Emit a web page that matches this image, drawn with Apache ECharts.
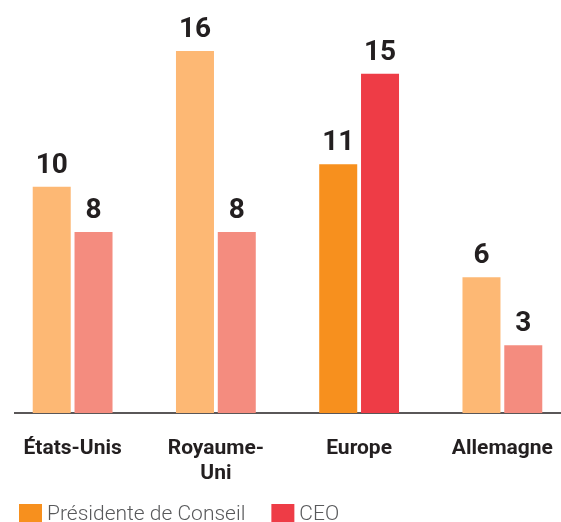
<!DOCTYPE html>
<html>
<head>
<meta charset="utf-8">
<script src="https://cdn.jsdelivr.net/npm/echarts@6/dist/echarts.min.js"></script>
<style>
  html, body { margin: 0; padding: 0; background: #fff; }
  #chart { width: 561px; height: 522px; }
</style>
</head>
<body>
<div id="chart"></div>
<script>
// données
const categories = ['États-Unis', 'Royaume-\nUni', 'Europe', 'Allemagne'];
const presidenteValues = [10, 16, 11, 6];
const ceoValues = [8, 8, 15, 3];
const seriesNames = ['Présidente de Conseil', 'CEO'];

// couleurs : Europe en couleur pleine, les autres en pâle
const presidenteColors = ['#FDB874', '#FDB874', '#F7901E', '#FDB874'];
const ceoColors = ['#F48C7F', '#F48C7F', '#EE3C46', '#F48C7F'];
const legendColors = ['#F7901E', '#EE3C46'];

const fontFamily = 'Roboto, "Noto Sans", sans-serif';

const chart = echarts.init(document.getElementById('chart'));

const labelStyle = {
  show: true,
  position: 'top',
  distance: 7,
  color: '#231F20',
  fontSize: 28,
  fontWeight: 'bold',
  fontFamily: fontFamily
};

chart.setOption({
  animation: false,
  grid: { left: 1, top: 51, right: -13, bottom: 109, outerBoundsMode: 'none', containLabel: false },
  legend: {
    left: 14,
    bottom: -9,
    itemWidth: 23,
    itemHeight: 22,
    itemGap: 26,
    icon: 'rect',
    data: [
      { name: seriesNames[0], itemStyle: { color: legendColors[0] } },
      { name: seriesNames[1], itemStyle: { color: legendColors[1] } }
    ],
    textStyle: {
      color: '#58595B',
      fontSize: 21,
      fontWeight: 300,
      fontFamily: fontFamily
    }
  },
  xAxis: {
    type: 'category',
    data: categories,
    axisLine: { show: false },
    axisTick: { show: false },
    axisLabel: {
      margin: 23,
      interval: 0,
      color: '#231F20',
      fontSize: 21,
      fontWeight: 'bold',
      lineHeight: 25,
      fontFamily: fontFamily
    }
  },
  yAxis: {
    type: 'value',
    min: 0,
    max: 16,
    show: false,
    splitLine: { show: false }
  },
  graphic: [{
    type: 'line',
    shape: { x1: 14, y1: 413, x2: 561, y2: 413 },
    style: { stroke: '#231F20', lineWidth: 1.5 }
  }],
  series: [
    {
      name: seriesNames[0],
      type: 'bar',
      barWidth: 38,
      barGap: '10%',
      itemStyle: { color: legendColors[0] },
      label: labelStyle,
      data: presidenteValues.map((v, i) => ({ value: v, itemStyle: { color: presidenteColors[i] } }))
    },
    {
      name: seriesNames[1],
      type: 'bar',
      barWidth: 38,
      itemStyle: { color: legendColors[1] },
      label: labelStyle,
      data: ceoValues.map((v, i) => ({ value: v, itemStyle: { color: ceoColors[i] } }))
    }
  ]
});
</script>
</body>
</html>
